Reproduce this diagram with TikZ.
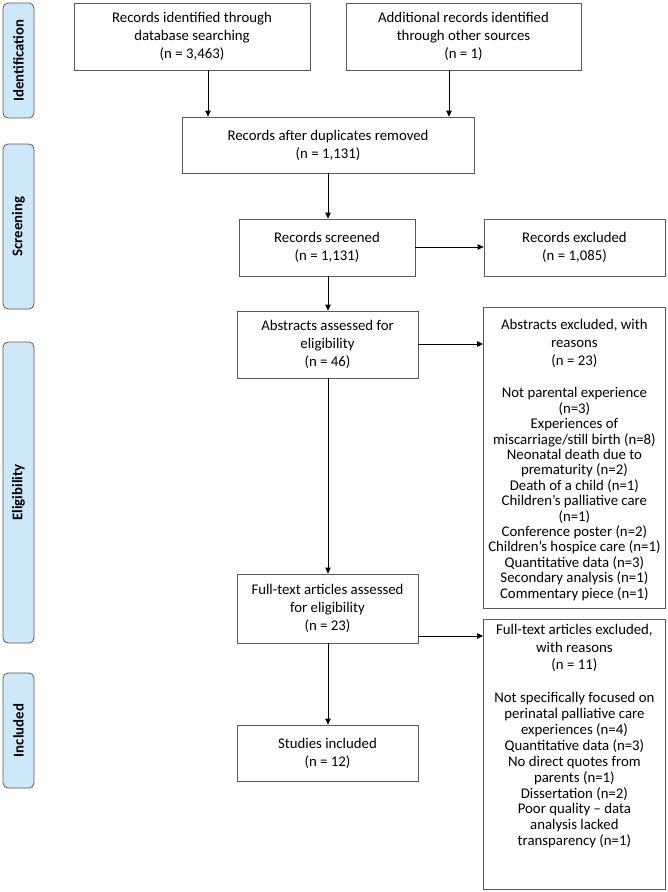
\documentclass[tikz,border=0pt]{standalone}
\usepackage{fontspec}
\setmainfont{Carlito}
\usetikzlibrary{arrows.meta,calc}
\definecolor{lblfill}{HTML}{CFE8F9}
\definecolor{boxline}{HTML}{5A5A5A}
\tikzset{
  box/.style={draw=boxline,line width=0.8pt,inner sep=0pt,align=center,
     font=\fontsize{14.8}{17.8}\selectfont},
  stage/.style={draw=boxline,fill=lblfill,line width=0.8pt,rounded corners=5pt,
     inner sep=0pt,minimum height=31pt,font=\fontsize{14.8}{17}\selectfont\bfseries,rotate=90},
  arr/.style={draw=black,line width=0.8pt,-{Triangle[length=6pt,width=5.5pt]}}
}
\begin{document}
\begin{tikzpicture}[x=1pt,y=-1pt]
\useasboundingbox (0,0) rectangle (668,892);
% stage labels
\node[stage,minimum width=115pt] (L1) at (18.5,60.5) {Identification};
\node[stage,minimum width=165pt] (L2) at (18.5,226.5) {Screening};
\node[stage,minimum width=301pt] (L3) at (18.5,492.5) {Eligibility};
\node[stage,minimum width=115pt] (L4) at (18.5,730.5) {Included};
% boxes
\node[box,minimum width=236pt,minimum height=67pt] (B1) at (192,36.5)
  {Records identified through\\database searching\\(n = 3,463)};
\node[box,minimum width=235pt,minimum height=67pt] (B2) at (463.5,36.5)
  {Additional records identified\\through other sources\\(n = 1)};
\node[box,minimum width=292pt,minimum height=56pt] (B3) at (328,145)
  {Records after duplicates removed\\(n = 1,131)};
\node[box,minimum width=176pt,minimum height=57pt] (B4) at (327,247.5)
  {Records screened\\(n = 1,131)};
\node[box,minimum width=181pt,minimum height=57pt] (B5) at (574.5,247.5)
  {Records excluded\\(n = 1,085)};
\node[box,minimum width=181pt,minimum height=67pt] (B6) at (327.5,344.5)
  {Abstracts assessed for\\eligibility\\(n = 46)};
\node[box,anchor=north west] (B7) at (483,307)
  {\begin{minipage}[t][301pt][t]{182pt}\centering\fontsize{14.8}{15.4}\selectfont
   \rule{0pt}{22.5pt}Abstracts excluded, with\\[2.6pt]
   reasons\\[2.6pt]
   (n = 23)\\[16.6pt]
   Not parental experience\\
   (n=3)\\
   Experiences of\\
   miscarriage/still birth (n=8)\\
   Neonatal death due to\\
   prematurity (n=2)\\
   Death of a child (n=1)\\
   Children’s palliative care\\
   (n=1)\\
   Conference poster (n=2)\\
   Children’s hospice care (n=1)\\
   Quantitative data (n=3)\\
   Secondary analysis (n=1)\\
   Commentary piece (n=1)\par
   \end{minipage}};
\node[box,minimum width=181pt,minimum height=69pt] (B8) at (327.5,608.5)
  {Full-text articles assessed\\for eligibility\\(n = 23)};
\node[box,anchor=north west] (B9) at (483,619)
  {\begin{minipage}[t][270pt][t]{182pt}\centering\fontsize{14.8}{15.85}\selectfont
   \rule{0pt}{15.5pt}Full-text articles excluded,\\[1.65pt]
   with reasons\\[1.65pt]
   (n = 11)\\[17.15pt]
   Not specifically focused on\\
   perinatal palliative care\\
   experiences (n=4)\\
   Quantitative data (n=3)\\
   No direct quotes from\\
   parents (n=1)\\
   Dissertation (n=2)\\
   Poor quality – data\\
   analysis lacked\\
   transparency (n=1)\par
   \end{minipage}};
\node[box,minimum width=181pt,minimum height=56pt] (B10) at (327.5,753)
  {Studies included\\(n = 12)};
% arrow guide coordinates
\coordinate (xa) at (208,0);
\coordinate (xb) at (449,0);
\coordinate (xc) at (328,0);
\coordinate (ya) at (0,247);
\coordinate (yb) at (0,344);
\coordinate (yc) at (0,636);
% connectors
\draw[arr] (B1.south -| xa) -- (B3.north -| xa);
\draw[arr] (B2.south -| xb) -- (B3.north -| xb);
\draw[arr] (B3.south -| xc) -- (B4.north -| xc);
\draw[arr] (B4.east |- ya) -- (B5.west |- ya);
\draw[arr] (B4.south -| xc) -- (B6.north -| xc);
\draw[arr] (B6.east |- yb) -- (B7.west |- yb);
\draw[arr] (B6.south -| xc) -- (B8.north -| xc);
\draw[arr] (B8.east |- yc) -- (B9.west |- yc);
\draw[arr] (B8.south -| xc) -- (B10.north -| xc);
\end{tikzpicture}
\end{document}
